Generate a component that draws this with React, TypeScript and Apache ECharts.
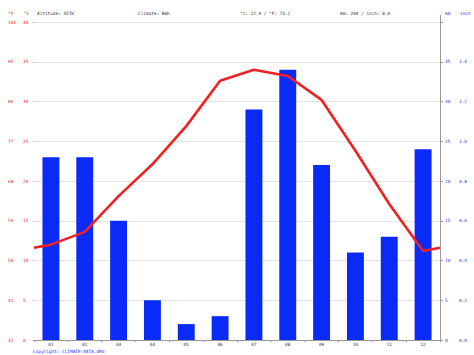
import React, { useEffect, useRef } from "react";
import * as echarts from "echarts";

const months = ["01", "02", "03", "04", "05", "06", "07", "08", "09", "10", "11", "12"];
const precipMm = [23, 23, 15, 5, 2, 3, 29, 34, 22, 11, 13, 24];
const tempC = [12.0, 13.6, 18.1, 22.1, 26.9, 32.6, 34.0, 33.2, 30.2, 23.8, 17.1, 11.2];
const edgeTempC = 11.6; // value read at the chart's left/right edges (year wrap)
const cTicks = ["0", "5", "10", "15", "20", "25", "30", "35", "40"];
const fTicks = ["32", "41", "50", "59", "68", "77", "86", "95", "104"];
const mmTicks = ["0", "5", "10", "15", "20", "25", "30", "35", ""];
const inchTicks = ["0.0", "0.2", "0.4", "0.6", "0.8", "1.0", "1.2", "1.4", ""];

const FONT = "DejaVu Sans Mono";
const FS = 4.4;
const RED = "#ee2222";
const BLUE = "#2233ee";

export default function App() {
  const ref = useRef<HTMLDivElement>(null);
  useEffect(() => {
    if (!ref.current) return;
    const chart = echarts.init(ref.current, undefined, { renderer: "svg" });
    const idx = (v: number) => Math.round(v / 5);
    const lineData: [number, number][] = [[0.5, edgeTempC]];
    tempC.forEach((t, i) => lineData.push([i + 1, t]));
    lineData.push([12.5, edgeTempC]);

    const labelBase = { fontFamily: FONT, fontSize: FS, align: "left" as const };

    chart.setOption({
      animation: false,
      backgroundColor: "#ffffff",
      grid: { left: 34, right: 34, top: 22, bottom: 15, containLabel: false },
      xAxis: [
        {
          type: "category",
          data: months,
          boundaryGap: true,
          axisLine: { show: true, lineStyle: { color: "#999", width: 1 } },
          axisTick: { show: true, length: 2, lineStyle: { color: "#999" } },
          axisLabel: { fontFamily: FONT, fontSize: FS, color: "#333", margin: 2 },
          splitLine: { show: false },
        },
        {
          type: "value",
          min: 0.5,
          max: 12.5,
          show: false,
        },
      ],
      yAxis: [
        {
          type: "value",
          min: 0,
          max: 40,
          interval: 5,
          position: "left",
          axisLine: { show: false },
          axisTick: { show: true, length: 2, lineStyle: { color: "#ccc" } },
          axisLabel: {
            ...labelBase,
            color: RED,
            margin: 11,
            formatter: (v: number) => cTicks[idx(v)],
          },
          splitLine: { show: true, lineStyle: { color: "#e4e4e4", width: 1 } },
        },
        {
          type: "value",
          min: 0,
          max: 40,
          interval: 5,
          position: "left",
          axisLine: { show: false },
          axisTick: { show: false },
          axisLabel: {
            ...labelBase,
            color: RED,
            margin: 26,
            formatter: (v: number) => fTicks[idx(v)],
          },
          splitLine: { show: false },
        },
        {
          type: "value",
          min: 0,
          max: 40,
          interval: 5,
          position: "right",
          axisLine: { show: true, lineStyle: { color: "#999", width: 1 } },
          axisTick: { show: true, length: 3, lineStyle: { color: "#999" } },
          axisLabel: {
            ...labelBase,
            color: BLUE,
            margin: 5,
            formatter: (v: number) => mmTicks[idx(v)],
          },
          splitLine: { show: false },
        },
        {
          type: "value",
          min: 0,
          max: 40,
          interval: 5,
          position: "right",
          axisLine: { show: false },
          axisTick: { show: false },
          axisLabel: {
            ...labelBase,
            color: BLUE,
            margin: 19,
            formatter: (v: number) => inchTicks[idx(v)],
          },
          splitLine: { show: false },
        },
      ],
      series: [
        {
          type: "bar",
          xAxisIndex: 0,
          yAxisIndex: 2,
          data: precipMm,
          barWidth: "50%",
          itemStyle: { color: "#0a2af7" },
          z: 2,
        },
        {
          type: "line",
          xAxisIndex: 1,
          yAxisIndex: 0,
          data: lineData,
          showSymbol: false,
          lineStyle: { color: RED, width: 2.6 },
          z: 3,
        },
      ],
      graphic: [
        { type: "line", shape: { x1: 440.5, y1: 15, x2: 440.5, y2: 22 }, style: { stroke: "#999", lineWidth: 1 } },
        { type: "text", x: 8, y: 11, style: { text: "°F", fill: RED, font: `${FS}px '${FONT}'` } },
        { type: "text", x: 24, y: 11, style: { text: "°C", fill: RED, font: `${FS}px '${FONT}'` } },
        { type: "text", x: 37, y: 11, style: { text: "Altitude: 457m", fill: "#333", font: `${FS}px '${FONT}'` } },
        { type: "text", x: 138, y: 11, style: { text: "Climate: BWh", fill: "#333", font: `${FS}px '${FONT}'` } },
        { type: "text", x: 240, y: 11, style: { text: "°C: 22.9 / °F: 73.2", fill: "#333", font: `${FS}px '${FONT}'` } },
        { type: "text", x: 340, y: 11, style: { text: "mm: 204 / inch: 8.0", fill: "#333", font: `${FS}px '${FONT}'` } },
        { type: "text", x: 445, y: 11, style: { text: "mm", fill: BLUE, font: `${FS}px '${FONT}'` } },
        { type: "text", x: 460, y: 11, style: { text: "inch", fill: BLUE, font: `${FS}px '${FONT}'` } },
        { type: "text", x: 33, y: 349, style: { text: "Copyright: CLIMATE-DATA.ORG", fill: BLUE, font: `${FS}px '${FONT}'` } },
      ],
    });
    return () => chart.dispose();
  }, []);
  return (
    <div
      ref={ref}
      style={{ position: "absolute", left: 0, top: 0, width: 474, height: 355, background: "#fff" }}
    />
  );
}
